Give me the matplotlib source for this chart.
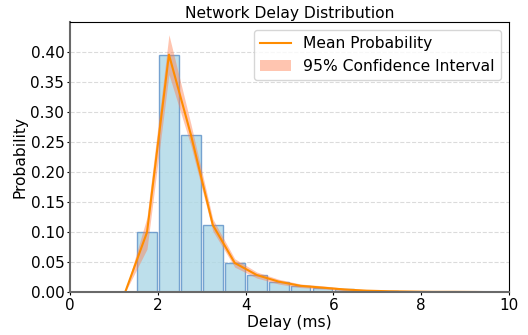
import numpy as np
import matplotlib.pyplot as plt

# 延迟分箱中心 (ms) 与各箱概率
delay_centers = [0.25, 0.75, 1.25, 1.75, 2.25, 2.75, 3.25, 3.75, 4.25, 4.75,
                 5.25, 5.75, 6.25, 6.75, 7.25, 7.75, 8.25, 8.75, 9.25, 9.75]
mean_prob = [0.0, 0.0, 0.0, 0.100, 0.395, 0.262, 0.112, 0.049, 0.029, 0.018,
             0.011, 0.008, 0.005, 0.003, 0.002, 0.0015, 0.001, 0.001, 0.0008, 0.0005]
ci_lower = [0.0, 0.0, 0.0, 0.072, 0.362, 0.244, 0.102, 0.042, 0.024, 0.014,
            0.008, 0.006, 0.003, 0.0015, 0.001, 0.0007, 0.0004, 0.0004, 0.0003, 0.0002]
ci_upper = [0.0, 0.0, 0.0, 0.125, 0.428, 0.280, 0.122, 0.056, 0.034, 0.022,
            0.014, 0.011, 0.007, 0.0045, 0.003, 0.0023, 0.0016, 0.0016, 0.0013, 0.0008]

fs = 11.2

fig, ax = plt.subplots(figsize=(5.28, 3.35), dpi=100)
fig.subplots_adjust(left=0.133, right=0.964, bottom=0.127, top=0.934)

ax.bar(delay_centers, mean_prob, width=0.45, color='lightblue', alpha=0.8,
       edgecolor='#5b8fc7', linewidth=1)
ax.plot(delay_centers, mean_prob, color='darkorange', linewidth=1.5, label='Mean Probability')
ax.fill_between(delay_centers, ci_lower, ci_upper, color='coral', alpha=0.45,
                linewidth=0, label='95% Confidence Interval')

ax.set_xlim(0, 10)
ax.set_ylim(0, 0.449)
ax.set_yticks(np.arange(0, 0.41, 0.05))
ax.set_title('Network Delay Distribution', fontsize=fs, pad=3)
ax.set_xlabel('Delay (ms)', fontsize=fs, labelpad=1)
ax.set_ylabel('Probability', fontsize=fs, labelpad=2)
ax.tick_params(labelsize=11, length=2.5, pad=1.8)
ax.grid(axis='y', linestyle='--', color='lightgray', alpha=0.8)
ax.set_axisbelow(True)
for side in ['left', 'bottom']:
    ax.spines[side].set_color('dimgray')
    ax.spines[side].set_linewidth(1.5)

ax.legend(loc='upper right', fontsize=fs)

plt.savefig('out.png')
